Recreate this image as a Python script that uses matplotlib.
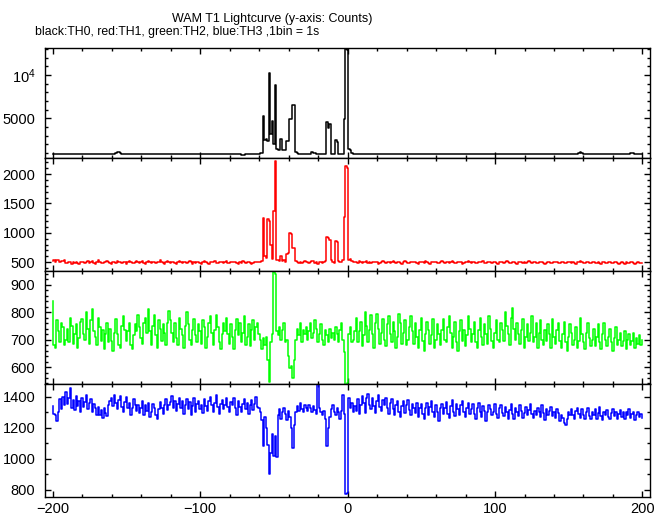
import numpy as np
import matplotlib
matplotlib.use('Agg')
import matplotlib.pyplot as plt
from matplotlib.ticker import MultipleLocator, FixedLocator, FixedFormatter

plt.rcParams['font.family'] = ['Liberation Sans', 'DejaVu Sans']
plt.rcParams['mathtext.fontset'] = 'custom'
plt.rcParams['mathtext.rm'] = 'Liberation Sans'
plt.rcParams['mathtext.it'] = 'Liberation Sans'
plt.rcParams['mathtext.default'] = 'regular'

# ---------------- data (counts per 1 s bin) ----------------
# segment start times (s)
t_left_start, t_burst_start, t_right_start = -200, -60, 6

th0_left = [
    880, 860, 900, 850, 870, 910, 880, 840, 870, 890, 860, 900, 880, 850, 870, 920, 880, 860, 890, 870,
    850, 880, 900, 870, 860, 890, 910, 870, 850, 880, 860, 900, 880, 870, 840, 880, 900, 870, 860, 890,
    880, 870, 900, 950, 1080, 1150, 1020, 900, 870, 860, 880, 900, 870, 850, 880, 890, 860, 880, 870, 900,
    870, 860, 890, 880, 850, 870, 900, 880, 860, 870, 890, 910, 880, 860, 850, 880, 900, 870, 880, 860,
    890, 870, 850, 880, 900, 870, 860, 880, 890, 870, 850, 880, 900, 920, 880, 860, 870, 890, 880, 860,
    870, 880, 850, 900, 880, 870, 860, 890, 870, 880, 900, 870, 850, 860, 880, 890, 870, 860, 880, 900,
    880, 860, 870, 890, 870, 850, 880, 860, 800, 760, 780, 820, 860, 880, 870, 890, 860, 880, 870, 900]
th0_burst = [
    900, 940, 1000, 5300, 2500, 2600, 2400, 10200, 3200, 4700,
    2000, 8800, 1400, 1300, 1300, 2600, 1300, 1300, 1300, 2400,
    2400, 4900, 4900, 6500, 6500, 1100, 950, 880, 860, 870,
    850, 860, 880, 850, 870, 860, 1080, 1050, 1000, 880,
    850, 870, 860, 840, 880, 870, 4600, 3900, 4400, 900,
    870, 880, 2500, 2300, 900, 870, 880, 900, 4900, 13000,
    12900, 1450, 1300, 950, 900, 880]
th0_right = [
    900, 880, 860, 870, 890, 850, 880, 870, 900, 860, 870, 880, 850, 890, 870, 860, 880, 900, 870, 850,
    880, 870, 860, 890, 880, 850, 870, 900, 880, 860, 870, 890, 870, 850, 880, 860, 900, 870, 880, 860,
    870, 890, 860, 880, 850, 870, 900, 880, 860, 870, 880, 890, 850, 870, 880, 860, 900, 870, 850, 880,
    860, 870, 890, 880, 850, 870, 880, 900, 860, 870, 880, 850, 890, 870, 860, 880, 870, 900, 880, 860,
    870, 850, 880, 890, 870, 860, 880, 900, 870, 850, 880, 870, 860, 890, 880, 870, 850, 880, 900, 870,
    860, 880, 870, 850, 890, 870, 880, 860, 900, 870, 880, 850, 870, 890, 860, 880, 870, 900, 880, 860,
    870, 880, 850, 890, 870, 860, 880, 900, 870, 850, 880, 870, 890, 860, 880, 870, 850, 900, 880, 870,
    860, 880, 890, 870, 850, 880, 870, 900, 860, 880, 870, 950, 1060, 980, 880, 870, 860, 890, 880, 870,
    850, 880, 870, 890, 860, 880, 870, 850, 900, 880, 870, 860, 890, 880, 850, 870, 880, 860, 900, 870,
    880, 860, 870, 890, 880, 870, 960, 1050, 980, 880, 870, 860, 890, 880, 870]

th1_left = [
    520, 540, 510, 530, 545, 500, 525, 515, 540, 490, 480, 510, 495, 470, 500, 485, 510, 490, 475, 505,
    495, 510, 480, 500, 520, 490, 505, 515, 485, 470, 500, 530, 510, 490, 480, 505, 495, 515, 500, 485,
    475, 500, 510, 490, 520, 505, 495, 480, 510, 500, 470, 495, 515, 500, 485, 490, 510, 525, 495, 480,
    500, 515, 490, 475, 505, 520, 495, 485, 510, 500, 480, 495, 505, 530, 510, 490, 475, 500, 515, 495,
    485, 500, 510, 490, 470, 505, 520, 500, 485, 495, 510, 480, 500, 515, 495, 475, 505, 490, 510, 500,
    490, 475, 500, 515, 505, 485, 470, 495, 510, 500, 520, 490, 480, 505, 495, 510, 485, 500, 515, 490,
    480, 500, 510, 495, 505, 485, 470, 500, 490, 515, 500, 480, 495, 505, 490, 470, 485, 500, 510, 495]
th1_burst = [
    495, 510, 520, 1250, 600, 570, 1230, 1200, 790, 560,
    1370, 2230, 530, 540, 520, 610, 520, 530, 510, 640,
    650, 990, 980, 740, 750, 520, 500, 490, 510, 480,
    500, 520, 495, 505, 480, 500, 525, 515, 490, 500,
    475, 495, 510, 485, 500, 520, 930, 920, 870, 530,
    510, 490, 860, 850, 520, 500, 510, 530, 1270, 2140,
    2100, 540, 550, 520, 500, 510]
th1_right = [
    505, 490, 515, 500, 480, 495, 510, 520, 490, 500, 485, 505, 495, 510, 500, 475, 490, 505, 515, 495,
    485, 500, 510, 490, 505, 520, 495, 480, 500, 510, 490, 475, 500, 515, 505, 490, 485, 500, 510, 495,
    505, 485, 470, 495, 510, 500, 490, 515, 500, 485, 475, 500, 510, 495, 505, 490, 480, 500, 515, 500,
    490, 505, 495, 480, 500, 520, 505, 490, 485, 500, 510, 495, 475, 490, 505, 500, 515, 495, 485, 500,
    510, 490, 480, 500, 495, 505, 515, 490, 480, 500, 510, 495, 485, 505, 500, 490, 470, 495, 510, 500,
    485, 500, 515, 495, 480, 490, 505, 500, 485, 475, 500, 510, 495, 490, 505, 485, 500, 515, 495, 480,
    495, 505, 490, 480, 500, 510, 495, 485, 470, 490, 505, 500, 490, 480, 495, 510, 500, 485, 490, 505,
    495, 480, 490, 500, 510, 495, 485, 500, 490, 475, 495, 505, 520, 500, 485, 490, 500, 495, 480, 490,
    505, 495, 480, 490, 500, 485, 475, 495, 505, 490, 480, 495, 500, 485, 490, 505, 495, 480, 470, 490,
    500, 485, 475, 495, 490, 480, 500, 505, 490, 475, 485, 495, 480, 490, 485]

th2_left = [
    840, 680, 670, 770, 730, 690, 760, 745, 680, 700, 740, 690, 780, 750, 685, 720, 755, 670, 705, 765,
    775, 720, 700, 800, 740, 685, 770, 810, 730, 710, 680, 780, 745, 695, 735, 665, 720, 760, 690, 740,
    695, 660, 725, 775, 720, 680, 670, 750, 785, 735, 695, 730, 760, 680, 665, 715, 755, 730, 790, 745,
    705, 685, 760, 780, 725, 810, 730, 680, 750, 790, 715, 670, 770, 740, 695, 755, 725, 680, 760, 805,
    770, 725, 690, 760, 705, 680, 780, 740, 715, 670, 750, 800, 755, 700, 680, 735, 775, 715, 690, 755,
    730, 685, 770, 745, 670, 710, 760, 785, 725, 680, 735, 790, 745, 690, 665, 720, 760, 730, 780, 720,
    685, 755, 710, 665, 735, 775, 715, 760, 690, 725, 785, 680, 710, 755, 675, 735, 770, 700, 745, 760]
th2_burst = [
    720, 700, 665, 705, 680, 710, 625, 545, 690, 720,
    945, 940, 730, 715, 745, 700, 735, 760, 690, 700,
    640, 595, 605, 560, 625, 700, 740, 715, 760, 690,
    735, 720, 745, 700, 730, 760, 705, 725, 770, 740,
    690, 720, 755, 700, 680, 735, 715, 690, 740, 705,
    725, 700, 745, 720, 690, 735, 760, 700, 655, 536,
    540, 720, 745, 690, 700, 730]
th2_right = [
    780, 690, 730, 765, 675, 715, 800, 750, 690, 735, 790, 720, 670, 760, 795, 740, 685, 725, 775, 700,
    675, 755, 785, 720, 690, 765, 730, 670, 710, 795, 760, 685, 725, 770, 680, 700, 745, 785, 730, 685,
    760, 710, 670, 735, 780, 695, 660, 720, 765, 735, 685, 715, 775, 670, 700, 755, 720, 680, 735, 775,
    700, 690, 745, 785, 725, 670, 710, 765, 690, 660, 730, 770, 695, 735, 675, 715, 785, 740, 690, 720,
    765, 690, 670, 735, 780, 710, 680, 755, 720, 685, 785, 740, 695, 670, 725, 770, 700, 690, 760, 735,
    695, 800, 750, 720, 680, 780, 815, 740, 700, 760, 720, 685, 735, 775, 670, 710, 755, 695, 725, 785,
    690, 710, 760, 670, 725, 770, 700, 680, 735, 695, 755, 720, 670, 775, 710, 685, 735, 760, 695, 670,
    720, 765, 690, 660, 710, 755, 725, 680, 700, 745, 670, 695, 780, 720, 690, 665, 725, 760, 705, 675,
    700, 740, 675, 710, 755, 690, 665, 720, 760, 700, 675, 710, 740, 690, 660, 705, 745, 680, 700, 725,
    675, 695, 730, 665, 700, 720, 680, 695, 725, 670, 705, 685, 715, 680, 700]

th3_left = [
    1340, 1290, 1280, 1245, 1305, 1385, 1320, 1400, 1345, 1430, 1355, 1390, 1455, 1330, 1380, 1315, 1405, 1340, 1375, 1300,
    1390, 1335, 1365, 1415, 1320, 1360, 1385, 1300, 1355, 1330, 1285, 1335, 1280, 1315, 1265, 1325, 1295, 1275, 1345, 1370,
    1395, 1340, 1415, 1360, 1320, 1380, 1405, 1335, 1300, 1365, 1400, 1330, 1360, 1285, 1325, 1385, 1350, 1310, 1350, 1295,
    1325, 1370, 1285, 1345, 1310, 1360, 1270, 1300, 1355, 1330, 1285, 1260, 1320, 1365, 1325, 1290, 1345, 1385, 1315, 1350,
    1365, 1405, 1330, 1375, 1310, 1355, 1395, 1325, 1370, 1290, 1350, 1385, 1320, 1365, 1280, 1340, 1390, 1305, 1355, 1375,
    1320, 1350, 1295, 1385, 1340, 1310, 1370, 1400, 1345, 1305, 1360, 1410, 1335, 1290, 1355, 1380, 1320, 1350, 1390, 1335,
    1305, 1365, 1345, 1395, 1325, 1280, 1370, 1335, 1300, 1355, 1385, 1320, 1360, 1290, 1350, 1380, 1315, 1355, 1400, 1335]
th3_burst = [
    1330, 1300, 1250, 1080, 1270, 1200, 1090, 900, 1040, 1160,
    1020, 1150, 1010, 1280, 1320, 1260, 1300, 1330, 1290, 1250,
    1310, 1270, 1200, 1070, 1220, 1300, 1340, 1310, 1360, 1320,
    1300, 1345, 1330, 1310, 1350, 1325, 1300, 1340, 1315, 1290,
    1480, 1330, 1300, 1280, 1310, 1260, 1080, 1200, 1270, 1320,
    1350, 1300, 1280, 1325, 1300, 1260, 1310, 1410, 1290, 770,
    780, 1390, 1330, 1360, 1300, 1340]
th3_right = [
    1310, 1385, 1290, 1350, 1405, 1360, 1295, 1395, 1420, 1345, 1320, 1390, 1340, 1295, 1370, 1410, 1335, 1310, 1380, 1350,
    1395, 1325, 1290, 1360, 1385, 1320, 1280, 1350, 1375, 1305, 1270, 1340, 1370, 1295, 1345, 1380, 1315, 1285, 1355, 1325,
    1295, 1360, 1270, 1330, 1355, 1290, 1260, 1325, 1360, 1285, 1335, 1370, 1305, 1270, 1345, 1300, 1245, 1325, 1355, 1290,
    1330, 1365, 1290, 1265, 1340, 1380, 1305, 1275, 1355, 1320, 1285, 1345, 1370, 1300, 1270, 1330, 1360, 1290, 1320, 1355,
    1290, 1260, 1330, 1360, 1300, 1270, 1340, 1310, 1245, 1300, 1350, 1320, 1280, 1305, 1355, 1290, 1265, 1325, 1345, 1295,
    1275, 1335, 1305, 1260, 1315, 1355, 1290, 1255, 1325, 1300, 1275, 1345, 1310, 1265, 1295, 1335, 1280, 1315, 1355, 1290,
    1265, 1310, 1285, 1330, 1300, 1270, 1345, 1295, 1250, 1320, 1285, 1310, 1335, 1275, 1305, 1265, 1320, 1295, 1245, 1285,
    1265, 1230, 1215, 1260, 1305, 1280, 1320, 1285, 1255, 1310, 1330, 1290, 1265, 1320, 1285, 1260, 1305, 1325, 1275, 1255,
    1300, 1280, 1320, 1260, 1295, 1335, 1275, 1250, 1305, 1285, 1315, 1270, 1255, 1295, 1320, 1275, 1305, 1260, 1290, 1315,
    1270, 1300, 1255, 1305, 1280, 1320, 1265, 1290, 1305, 1250, 1280, 1300, 1270, 1290, 1265]

title = "WAM T1 Lightcurve (y-axis: Counts)"
subtitle = "black:TH0, red:TH1, green:TH2, blue:TH3 ,1bin = 1s"
x_ticks = [-200, -100, 0, 100, 200]
x_tick_labels = ["\u2212200", "\u2212100", "0", "100", "200"]


def build(left, burst, right):
    t = np.concatenate([
        t_left_start + np.arange(len(left)),
        t_burst_start + np.arange(len(burst)),
        t_right_start + np.arange(len(right))])
    v = np.array(left + burst + right, dtype=float)
    return t, v


panels = [
    dict(data=(th0_left, th0_burst, th0_right), color='black', ylim=(380, 13100),
         major=[5000, 10000], labels=['5000', r'$10^4$'], minor=1000),
    dict(data=(th1_left, th1_burst, th1_right), color='#ff0000', ylim=(350, 2270),
         major=[500, 1000, 1500, 2000], labels=['500', '1000', '1500', '2000'], minor=100),
    dict(data=(th2_left, th2_burst, th2_right), color='#00ff00', ylim=(537, 950),
         major=[600, 700, 800, 900], labels=['600', '700', '800', '900'], minor=20),
    dict(data=(th3_left, th3_burst, th3_right), color='#0000ff', ylim=(755, 1481),
         major=[800, 1000, 1200, 1400], labels=['800', '1000', '1200', '1400'], minor=100),
]

W, H = 669, 515
fig = plt.figure(figsize=(W / 100, H / 100), dpi=100)
edges = [48.3, 158.3, 271.0, 384.3, 496.7]
left_px, right_px = 45, 650

for i, p in enumerate(panels):
    top, bot = edges[i], edges[i + 1]
    ax = fig.add_axes([left_px / W, 1 - bot / H, (right_px - left_px) / W, (bot - top) / H])
    t, v = build(*p['data'])
    ax.plot(t, v, drawstyle='steps-mid', color=p['color'], lw=1.1)
    ax.set_xlim(-205.2, 205.1)
    ax.set_ylim(*p['ylim'])
    ax.yaxis.set_major_locator(FixedLocator(p['major']))
    ax.yaxis.set_major_formatter(FixedFormatter(p['labels']))
    ax.yaxis.set_minor_locator(MultipleLocator(p['minor']))
    ax.xaxis.set_major_locator(FixedLocator(x_ticks))
    ax.xaxis.set_minor_locator(MultipleLocator(20))
    ax.tick_params(which='both', direction='in', top=True, right=True, width=1.0,
                   labelsize=10.5, colors='black')
    ax.tick_params(which='major', length=4.5)
    ax.tick_params(which='minor', length=2.4)
    ax.tick_params(axis='y', pad=7)
    ax.tick_params(axis='x', pad=3.5)
    for s in ax.spines.values():
        s.set_linewidth(1.0)
    if i < 3:
        ax.set_xticklabels([])
    else:
        ax.set_xticklabels(x_tick_labels)

fig.text(272 / W, 1 - 22 / H, title, ha='center', va='baseline', fontsize=9.0)
fig.text(35 / W, 1 - 34.5 / H, subtitle, ha='left', va='baseline', fontsize=8.85)

fig.savefig('out.png', dpi=100)
